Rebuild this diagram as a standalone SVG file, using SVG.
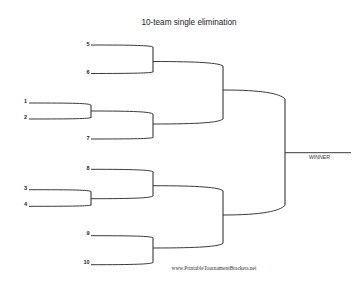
<svg xmlns="http://www.w3.org/2000/svg" width="364" height="281" viewBox="0 0 364 281">
<style>
.ln{fill:none;stroke:#3a3a3a;stroke-width:1}
.v{fill:none;stroke:#222;stroke-width:1}
.lbl{font-family:"Liberation Sans",Arial,sans-serif;font-size:5.5px;font-weight:bold;fill:#222;text-anchor:end}
.title{font-family:"Liberation Sans",Arial,sans-serif;font-size:8.2px;fill:#222;text-anchor:middle}
.win{font-family:"Liberation Sans",Arial,sans-serif;font-size:5.2px;fill:#333;text-anchor:middle}
.foot{font-family:"Liberation Serif","Times New Roman",serif;font-size:5.4px;fill:#333;text-anchor:middle}
</style>
<rect width="364" height="281" fill="#fff"/>
<text class="title" x="189" y="25">10-team single elimination</text>
<g id="connectors">
<!-- round 1 -->
<path class="ln" d="M29 103 C75 103 88 103.3 91 105"/>
<path class="ln" d="M29 119 C75 119 88 118.7 91 117.5"/>
<path class="v" d="M91 105 V118"/>
<path class="ln" d="M29 189.7 C75 189.7 88 190 91 191.5"/>
<path class="ln" d="M29 206.3 C75 206.3 88 206 91 205"/>
<path class="v" d="M91 191.3 V205.5"/>
<!-- round 2 -->
<path class="ln" d="M91 45 C135 45 150 45.5 153 47"/>
<path class="ln" d="M91 73.5 C135 73.5 150 73 153 72"/>
<path class="v" d="M153 47 V72"/>
<path class="ln" d="M91 111 C135 111 150 111.8 153 114"/>
<path class="ln" d="M91 139 C135 139 150 138.6 153 137.5"/>
<path class="v" d="M153 114 V137.5"/>
<path class="ln" d="M91 169.3 C135 169.3 150 170 153 171.7"/>
<path class="ln" d="M91 198.7 C135 198.7 150 198 153 196"/>
<path class="v" d="M153 171.7 V196"/>
<path class="ln" d="M91 235.7 C135 235.7 150 236.2 153 237.7"/>
<path class="ln" d="M91 264.7 C135 264.7 150 264.2 153 262.5"/>
<path class="v" d="M153 237.7 V262.5"/>
<!-- round 3 -->
<path class="ln" d="M153 61.5 C200 61.5 219 63 223 66"/>
<path class="ln" d="M153 124 C200 124 219 122.5 223 119"/>
<path class="v" d="M223 66 V119"/>
<path class="ln" d="M153 185.7 C200 185.7 219 187.5 223 190.7"/>
<path class="ln" d="M153 248 C200 248 219 246.5 223 243.3"/>
<path class="v" d="M223 190.7 V243.3"/>
<!-- semis -->
<path class="ln" d="M223 90 C262 90 280 93.5 285 99"/>
<path class="ln" d="M223 215 C262 215 280 211 285 205.3"/>
<path class="v" d="M285 99 V205.3"/>
<!-- winner -->
<path class="ln" d="M285 152.7 H351"/>
</g>
<g id="team-5"><text class="lbl" x="89.5" y="45.5">5</text></g>
<g id="team-6"><text class="lbl" x="89.5" y="74">6</text></g>
<g id="team-1"><text class="lbl" x="27" y="102.5">1</text></g>
<g id="team-2"><text class="lbl" x="27" y="119">2</text></g>
<g id="team-7"><text class="lbl" x="89.5" y="139.5">7</text></g>
<g id="team-8"><text class="lbl" x="89.5" y="169.5">8</text></g>
<g id="team-3"><text class="lbl" x="27" y="189.5">3</text></g>
<g id="team-4"><text class="lbl" x="27" y="205.5">4</text></g>
<g id="team-9"><text class="lbl" x="89.5" y="235">9</text></g>
<g id="team-10"><text class="lbl" x="89.5" y="264">10</text></g>
<g id="winner"><text class="win" x="319.5" y="158.5">WINNER</text></g>
<text class="foot" x="214" y="269.5">www.PrintableTournamentBrackets.net</text>
</svg>
